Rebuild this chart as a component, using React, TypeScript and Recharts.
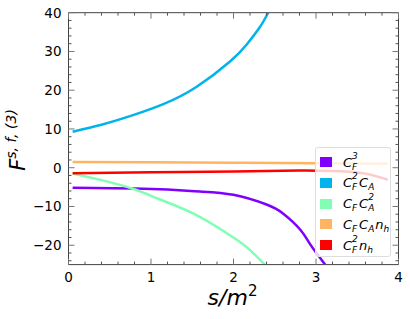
import React from 'react'
import { LineChart, Line, XAxis, YAxis } from 'recharts'

const FONT = '"DejaVu Sans", "Liberation Sans", sans-serif'

// series (x = s/m^2, y = F^{s,f,(3)})
const CF3 = [
  { x: 0.05, y: -5.15 }, { x: 0.8, y: -5.35 }, { x: 1.2, y: -5.65 }, { x: 1.59, y: -6.15 },
  { x: 2.0, y: -7.0 }, { x: 2.4, y: -9.5 }, { x: 2.6, y: -11.8 }, { x: 2.81, y: -16.0 },
  { x: 2.93, y: -19.8 }, { x: 3.03, y: -22.7 }, { x: 3.11, y: -25 },
]
const CF2CA = [
  { x: 0.05, y: 9.3 }, { x: 0.4, y: 11.1 }, { x: 0.745, y: 13.3 }, { x: 1.149, y: 16.4 },
  { x: 1.554, y: 20.9 }, { x: 1.958, y: 27.4 }, { x: 2.16, y: 31.8 }, { x: 2.32, y: 36.3 },
  { x: 2.42, y: 40 },
]
const CFCA2 = [
  { x: 0.05, y: -1.5 }, { x: 0.4, y: -3.2 }, { x: 0.79, y: -5.5 }, { x: 1.11, y: -8.2 },
  { x: 1.51, y: -11.8 }, { x: 1.92, y: -16.9 }, { x: 2.16, y: -20.5 }, { x: 2.38, y: -25 },
]
const CFCANH = [
  { x: 0.05, y: 1.5 }, { x: 1.0, y: 1.4 }, { x: 2.0, y: 1.3 }, { x: 3.0, y: 1.15 }, { x: 3.87, y: 1.0 },
]
const CF2NH = [
  { x: 0.05, y: -1.45 }, { x: 1.0, y: -1.2 }, { x: 2.0, y: -0.95 }, { x: 2.8, y: -0.75 },
  { x: 3.2, y: -0.85 }, { x: 3.4, y: -1.05 }, { x: 3.55, y: -1.35 }, { x: 3.7, y: -2.0 }, { x: 3.87, y: -3.1 },
]

const SERIES = [CF3, CF2CA, CFCA2, CFCANH, CF2NH]
const COLORS = ['#8000ff', '#00b4eb', '#80ffb4', '#ffb462', '#ff0000']
const LEGEND = [
  [{ b: 'C', sub: 'F', sup: '3' }],
  [{ b: 'C', sub: 'F', sup: '2' }, { b: 'C', sub: 'A' }],
  [{ b: 'C', sub: 'F' }, { b: 'C', sub: 'A', sup: '2' }],
  [{ b: 'C', sub: 'F' }, { b: 'C', sub: 'A' }, { b: 'n', sub: 'h' }],
  [{ b: 'C', sub: 'F', sup: '2' }, { b: 'n', sub: 'h' }],
]

const X_MAJOR = [0, 1, 2, 3, 4]
const Y_MAJOR = [-20, -10, 0, 10, 20, 30, 40]
const X_TICKS: number[] = []
for (let i = 0; i <= 20; i++) X_TICKS.push(Math.round(i * 0.2 * 10) / 10)
const Y_TICKS: number[] = []
for (let v = -24; v <= 40; v += 2) Y_TICKS.push(v)

const FRAME = '#444'
const fmt = (v: number) => (v < 0 ? '\u2212' + Math.abs(v) : String(v))

function XTick(props: any) {
  const { x, y, payload, side } = props
  const v = payload.value
  const major = X_MAJOR.includes(v)
  const len = major ? 6 : 3
  const dir = side === 'top' ? 1 : -1
  return (
    <g>
      <line x1={x} x2={x} y1={y} y2={y + dir * len} stroke={major ? '#777' : '#555'} strokeWidth={1} />
      {major && side !== 'top' && (
        <text x={x} y={y + 12} textAnchor="middle" dominantBaseline="central" fontSize={13.5} fontFamily={FONT} fill="#000">
          {fmt(v)}
        </text>
      )}
    </g>
  )
}

function YTick(props: any) {
  const { x, y, payload, side } = props
  const v = payload.value
  const major = Y_MAJOR.includes(v)
  const len = major ? 6 : 3
  const dir = side === 'right' ? -1 : 1
  return (
    <g>
      <line x1={x} x2={x + dir * len} y1={y} y2={y} stroke={major ? '#777' : '#555'} strokeWidth={1} />
      {major && side !== 'right' && (
        <text x={x - 7} y={y} textAnchor="end" dominantBaseline="central" fontSize={13.5} fontFamily={FONT} fill="#000">
          {fmt(v)}
        </text>
      )}
    </g>
  )
}

// base letter with stacked superscript / subscript, like matplotlib mathtext
function Term({ t }: { t: { b: string; sub?: string; sup?: string } }) {
  return (
    <span style={{ position: 'relative', display: 'inline-block', paddingRight: t.sub || t.sup ? 7 : 0 }}>
      {t.b}
      {t.sup && (
        <span style={{ position: 'absolute', left: '100%', marginLeft: -7, top: -3, fontSize: 9, lineHeight: '9px' }}>{t.sup}</span>
      )}
      {t.sub && (
        <span style={{ position: 'absolute', left: '100%', marginLeft: -7, top: 8, fontSize: 9, lineHeight: '9px' }}>{t.sub}</span>
      )}
    </span>
  )
}

function LegendBox() {
  return (
    <div
      style={{
        position: 'absolute', left: 315, top: 147, width: 76, height: 110,
        background: 'rgba(255,255,255,0.8)', border: '1px solid #ddd', borderRadius: 3,
        fontFamily: FONT, fontStyle: 'italic', fontSize: 13, lineHeight: '15px', color: '#000', boxSizing: 'border-box',
      }}
    >
      {LEGEND.map((terms, i) => (
        <div key={i} style={{ position: 'absolute', left: 4, top: 5 + i * 20.8, height: 18, display: 'flex', alignItems: 'center', whiteSpace: 'nowrap' }}>
          <span style={{ width: 12, height: 10, background: COLORS[i], display: 'inline-block', marginRight: 11 }} />
          {terms.map((t, j) => (
            <Term key={j} t={t} />
          ))}
        </div>
      ))}
    </div>
  )
}

export default function App() {
  return (
    <div style={{ position: 'absolute', left: 0, top: 0, width: 410, height: 319, background: '#fff' }}>
      <LineChart width={410} height={319} margin={{ top: 0, right: 0, bottom: 0, left: 0 }}>
        <XAxis xAxisId="b" type="number" dataKey="x" domain={[0, 4]} ticks={X_TICKS} interval={0}
          allowDataOverflow tickSize={0} tickMargin={0} height={54.4} stroke={FRAME}
          tickLine={false} tick={(p: any) => <XTick {...p} side="bottom" />} />
        <XAxis xAxisId="t" orientation="top" type="number" dataKey="x" domain={[0, 4]} ticks={X_TICKS} interval={0}
          allowDataOverflow tickSize={0} tickMargin={0} height={12.7} stroke={FRAME}
          tickLine={false} tick={(p: any) => <XTick {...p} side="top" />} />
        <YAxis yAxisId="l" type="number" domain={[-25, 40]} ticks={Y_TICKS} interval={0}
          allowDataOverflow tickSize={0} tickMargin={0} width={68.5} stroke={FRAME}
          tickLine={false} tick={(p: any) => <YTick {...p} side="left" />} />
        <YAxis yAxisId="r" orientation="right" type="number" domain={[-25, 40]} ticks={Y_TICKS} interval={0}
          allowDataOverflow tickSize={0} tickMargin={0} width={11.5} stroke={FRAME}
          tickLine={false} tick={(p: any) => <YTick {...p} side="right" />} />
        {SERIES.map((d, i) => (
          <Line key={i} xAxisId="b" yAxisId="l" data={d} dataKey="y" type="natural" dot={false}
            stroke={COLORS[i]} strokeWidth={2.5} isAnimationActive={false} />
        ))}
        <text x={232.5} y={305} textAnchor="middle" fontFamily={FONT} fontStyle="italic" fontSize={22} fill="#000">
          s/m<tspan fontSize={15} dy={-9} fontStyle="normal">2</tspan>
        </text>
        <text x={25} y={140} transform="rotate(-90, 25, 140)" textAnchor="middle" fontFamily={FONT} fontStyle="italic" fontSize={21} fill="#000">
          F<tspan fontSize={14} dy={-9}>s, f, (3)</tspan>
        </text>
      </LineChart>
      <LegendBox />
    </div>
  )
}
